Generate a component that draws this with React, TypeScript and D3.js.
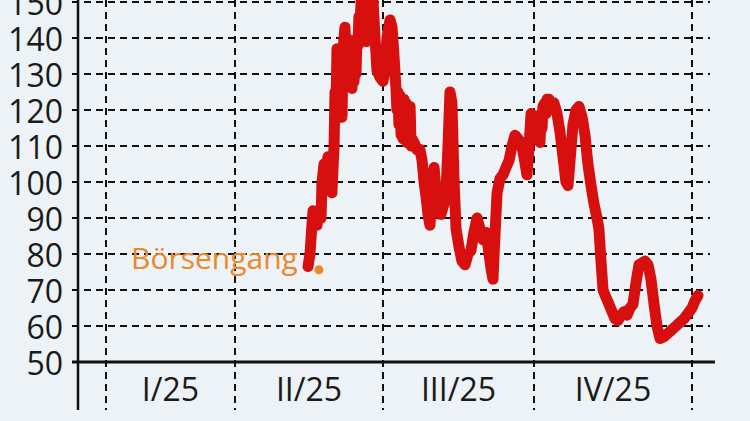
import React from "react";
import * as d3 from "d3";

// Day-of-year positions of the quarter boundaries (2025)
const quarterBounds = [0, 90, 181, 273, 365];
const quarterLabels = ["I/25", "II/25", "III/25", "IV/25"];
const yTicks = [50, 60, 70, 80, 90, 100, 110, 120, 130, 140, 150];

// Price series: day of year and price
const days = [
  134.9, 136.1, 137.3, 138.0, 139.2, 140.4, 141.6, 142.9, 143.5, 144.7, 146.0, 147.2, 148.4, 149.6,
  150.9, 151.5, 152.1, 152.7, 153.3, 153.9, 154.6, 155.2, 155.8, 156.4, 157.0, 157.6, 158.3, 158.9,
  159.5, 160.1, 160.7, 161.3, 161.9, 162.6, 163.2, 163.8, 164.4, 165.0, 165.6, 166.2, 166.9, 167.5,
  168.7, 170.5, 171.8, 173.0, 174.9, 176.1, 177.3, 179.2, 181.0,
  182.2, 183.4, 185.3, 186.5, 187.7, 188.9, 189.5, 190.1, 190.7, 191.4, 192.0, 192.6, 193.2, 193.8,
  194.4, 195.0, 195.6, 196.2, 196.8, 197.5, 198.1, 198.7, 199.9, 201.7, 203.5, 204.8, 206.0, 207.2,
  208.4, 209.6, 210.9, 212.1, 213.3, 214.5, 216.3, 218.2, 219.4, 220.6, 221.8, 223.0, 224.3, 225.5,
  227.3, 229.1, 231.0, 232.8, 234.6, 236.4, 238.3, 240.1, 241.9, 243.8, 245.0, 246.8, 248.0, 249.2,
  250.5, 252.3, 254.1, 255.9, 257.8, 259.6, 261.4, 263.3, 265.1, 266.9, 268.7, 270.0, 271.2, 273.0,
  274.7, 275.3, 275.9, 276.5, 277.1, 277.7, 278.2, 279.4, 280.0, 280.6, 281.2, 281.7, 282.9, 284.6,
  286.4, 288.1, 289.9, 291.6, 292.8, 294.0, 295.7, 297.5, 299.2, 301.0, 302.7, 304.4, 306.2, 307.9,
  309.7, 310.8, 312.0, 313.2, 314.9, 316.7, 318.4, 320.2, 321.9, 323.7, 325.4, 327.2, 328.9, 330.6,
  332.4, 334.1, 335.9, 337.6, 339.4, 341.1, 342.9, 344.6, 346.4, 348.7, 351.0, 353.4, 355.7, 358.0,
  360.3, 362.7, 365.0, 366.7, 368.5,
];
const prices = [
  76.5, 80, 88, 92, 91, 88, 92, 90, 100, 105, 104, 107, 100, 97,
  110, 125, 120, 137, 128, 133, 120, 130, 118, 135, 140, 143, 135, 140,
  130, 135, 128, 132, 126, 131, 128, 136, 130, 140, 138, 146, 143, 150,
  152, 139, 148, 152, 150, 140, 131, 129, 128,
  131, 140, 145, 143, 135, 126, 120, 125, 116, 124, 113, 122, 112, 123,
  114, 122, 111, 120, 112, 121, 110, 112, 111, 109, 109, 106, 100, 96,
  91, 88, 96, 104, 98, 92, 91, 94, 97, 110, 125, 122, 100, 87,
  82, 78, 77, 80, 81, 86, 90, 87, 84, 86, 82, 76, 73, 85,
  97, 101, 102, 104, 106, 110, 113, 112, 111, 107, 102, 110, 119, 118,
  117, 112, 118, 111, 119, 115, 121, 122, 119, 123, 120, 123, 121, 122,
  119, 114, 107, 100, 99, 106, 116, 120, 121, 118, 113, 105, 99, 94,
  90, 87, 78, 70, 68, 66, 64, 62, 61.5, 63, 64, 63, 65, 66,
  72, 77, 77.5, 78, 77, 73, 66, 60, 56.5, 57, 58, 59, 60, 61,
  62, 63.5, 65, 67, 68.5,
];

const ipoDay = 141.6;
const ipoPrice = 75.6;
const ipoLabel = "Börsengang";

const W = 750;
const H = 421;
const FONT = "'Open Sans', 'Noto Sans', sans-serif";

export default function App() {
  const x = d3.scaleLinear().domain(quarterBounds).range([106, 235, 383, 534, 692]);
  const y = d3.scaleLinear().domain([50, 150]).range([362, 2]);

  const pts = days.map((d, i) => [d, prices[i]] as [number, number]);
  const line = d3
    .line<[number, number]>()
    .x((d) => x(d[0]))
    .y((d) => y(d[1]))
    .curve(d3.curveLinear);

  const axisX = 78;
  const gridLeft = 72;
  const gridRight = 710;
  const baseY = y(50);

  return (
    <svg
      width={W}
      height={H}
      style={{ position: "absolute", left: 0, top: 0, background: "#edf2f6" }}
    >
      <rect x={0} y={0} width={W} height={H} fill="#edf2f6" />
      {/* horizontal grid */}
      {yTicks
        .filter((t) => t !== 50)
        .map((t) => (
          <line
            key={"h" + t}
            x1={gridLeft}
            x2={gridRight}
            y1={y(t)}
            y2={y(t)}
            stroke="#111"
            strokeWidth={2}
            strokeDasharray="7,5"
          />
        ))}
      {/* vertical quarter separators */}
      {quarterBounds.map((q) => (
        <line
          key={"v" + q}
          x1={x(q)}
          x2={x(q)}
          y1={0}
          y2={410}
          stroke="#111"
          strokeWidth={2}
          strokeDasharray="7,5"
        />
      ))}
      {/* axes */}
      <line x1={axisX} x2={axisX} y1={0} y2={410} stroke="#111" strokeWidth={2.5} />
      <line x1={gridLeft} x2={715} y1={baseY} y2={baseY} stroke="#111" strokeWidth={3} />
      {/* y labels */}
      {yTicks.map((t) => (
        <text
          key={"yl" + t}
          x={63}
          y={y(t)}
          textAnchor="end"
          dominantBaseline="central"
          fontFamily={FONT}
          fontSize={32}
          fill="#1a1a1a"
        >
          {t}
        </text>
      ))}
      {/* quarter labels */}
      {quarterLabels.map((l, i) => (
        <text
          key={l}
          x={(x(quarterBounds[i]) + x(quarterBounds[i + 1])) / 2}
          y={401}
          textAnchor="middle"
          fontFamily={FONT}
          fontSize={32}
          fill="#1a1a1a"
        >
          {l}
        </text>
      ))}
      {/* price line */}
      <path
        d={line(pts) || ""}
        fill="none"
        stroke="#d7100f"
        strokeWidth={11}
        strokeLinejoin="round"
        strokeLinecap="round"
      />
      {/* IPO marker */}
      <circle cx={x(ipoDay)} cy={y(ipoPrice)} r={4.5} fill="#e8892b" />
      <text
        x={x(ipoDay) - 21}
        y={y(ipoPrice) - 1}
        textAnchor="end"
        fontFamily={FONT}
        fontSize={30}
        fill="#e8892b"
      >
        {ipoLabel}
      </text>
    </svg>
  );
}
